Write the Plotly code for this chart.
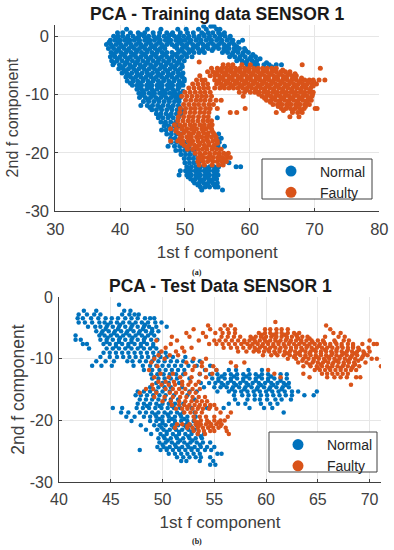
import plotly.graph_objects as go

# Each row: (2nd f component, [1st f component values])
train_normal_rows = [
(1.7,[52.9,54.0,54.5]),
(1.2,[41.0,44.2,46.3,48.9,50.2,52.1,53.3,54.9,55.4]),
(0.6,[39.6,40.4,41.6,42.8,43.8,45.1,46.1,47.2,48.1,49.3,50.4,51.3,52.6,53.6,54.3,55.2,56.1]),
(0.0,[39.0,39.7,40.4,41.2,42.0,42.9,43.7,44.4,45.2,46.0,46.8,47.5,48.4,49.1,49.8,50.6,51.4,52.2,53.0,53.8,54.6,55.4,56.2,57.0]),
(-0.7,[38.5,39.2,40.0,40.7,41.5,42.2,43.0,43.8,44.6,45.3,46.2,47.0,47.8,48.6,49.4,50.0,50.9,51.7,52.5,53.3,54.1,54.9,55.7,56.5,57.4,58.9]),
(-1.4,[37.9,38.6,39.4,40.1,40.9,41.7,42.5,43.2,44.0,44.8,45.6,46.4,47.2,48.0,48.8,49.6,50.3,51.2,52.0,52.8,53.6,54.4,55.2,56.0,56.8,57.6]),
(-2.1,[38.2,39.0,39.8,40.6,41.4,42.2,43.0,43.8,44.6,45.4,46.2,46.9,48.8,49.6,50.4,51.2,52.0,52.8,53.6,54.4,55.2,56.0,56.8,57.6,58.4,59.2]),
(-2.8,[38.6,39.3,40.1,40.9,41.7,42.5,43.3,44.1,44.9,45.7,46.5,47.2,48.0,49.0,49.8,50.6,51.4,52.2,53.0,55.8,56.6,57.4,58.2,59.0,59.8]),
(-3.5,[38.5,39.2,40.0,40.8,41.6,42.4,43.2,44.0,44.8,45.6,46.4,47.2,48.0,48.8,49.5,50.3,51.1,56.9,57.7,58.5,59.3,60.2,60.9]),
(-4.2,[38.7,39.5,40.3,41.1,41.9,42.7,43.5,44.3,45.1,45.9,46.7,47.5,48.3,49.1,49.9,58.0,58.8,59.6,60.4,61.1]),
(-4.9,[38.9,39.9,40.7,41.5,42.3,43.1,43.9,44.7,45.5,46.3,47.1,47.9,48.7,49.5,59.6,60.5,61.2,62.2,63.0,64.1,64.9]),
(-5.6,[39.8,40.5,41.3,42.1,42.9,43.7,44.5,45.3,46.1,46.9,47.7,48.5,49.3,61.1]),
(-6.3,[40.3,41.0,41.8,42.6,43.4,44.2,45.0,45.8,46.6,47.4,48.2,49.0,49.7]),
(-7.0,[40.9,41.6,42.4,43.2,44.0,44.8,45.6,46.4,47.2,48.0,48.8,49.6]),
(-7.7,[41.1,42.0,42.7,43.5,44.3,45.1,45.9,46.7,47.5,48.3,49.1,49.9]),
(-8.4,[41.9,42.6,43.3,44.1,44.9,45.7,46.5,47.3,48.1,48.9,49.7]),
(-9.1,[42.6,43.3,44.1,44.9,45.7,46.5,47.3,48.1,48.9]),
(-9.8,[42.9,43.7,44.5,45.3,46.1,47.0,47.7,48.5,49.2]),
(-10.5,[43.0,43.9,44.7,45.5,46.3,47.1,47.9,48.6,49.3]),
(-11.2,[43.6,44.4,45.2,46.0,46.8,47.6,48.4,49.1]),
(-11.9,[43.2,44.2,45.0,45.8,46.6,47.4,48.2,49.0]),
(-12.6,[44.9,45.6,46.4,47.2,48.0,48.8,49.5]),
(-13.3,[45.6,46.3,47.1,47.9,48.7,49.4]),
(-14.0,[45.9,46.6,47.4,48.2,49.0,55.0]),
(-14.7,[46.3,47.0,47.8,48.6]),
(-15.4,[46.8,47.5,48.3,49.0]),
(-16.1,[46.4,47.1,47.9,48.6]),
(-16.8,[47.2,47.9,48.7,49.4,55.2]),
(-17.5,[47.8,48.5,49.3,54.9,55.6]),
(-18.2,[47.9,48.7,49.5,50.1,55.3]),
(-18.9,[47.4,48.4,49.2,49.9,50.6,55.1,56.1]),
(-19.6,[48.6,49.3,50.0,50.7,51.4]),
(-20.3,[49.4,50.1,50.8,51.5]),
(-21.0,[49.9,50.6,51.3,52.0]),
(-21.7,[50.0,50.7,51.4,52.1,55.9,56.8]),
(-22.4,[50.3,51.0,51.7,52.4,53.1,53.8,54.5,55.2,57.9,58.6]),
(-23.1,[49.3,50.1,50.9,51.6,52.3,53.0,53.7,54.4,55.0]),
(-23.8,[49.1,50.3,51.0,51.7,52.4,53.1,53.8,54.5,55.1]),
(-24.5,[50.9,51.6,52.3,53.0,53.7,54.4,54.9]),
(-25.2,[51.5,52.2,52.9,53.6,54.3,55.0]),
(-25.9,[52.4,53.1,53.8,54.7,55.1]),
(-26.4,[52.6,55.8]),
# in-between points of the dense body
(0.3,[43.2,47.9,52.9,55.8]),
(-0.35,[39.6,41.1,42.6,44.2,45.8,47.4,49.0,50.5,52.1,53.7,55.3,56.9]),
(-1.05,[38.3,39.8,41.3,42.9,44.4,46.0,47.6,49.2,50.7,52.4,54.0,55.6,57.2,58.3]),
(-1.75,[38.8,40.3,41.8,43.4,45.0,46.6,48.4,50.0,51.6,53.2,54.8,56.4,58.0]),
(-2.45,[39.6,41.1,42.6,44.2,45.8,49.4,51.0,52.6,54.2,56.2,57.8,59.4]),
(-3.15,[38.9,40.5,42.1,43.7,45.3,46.9,48.5,50.1,57.3,58.9,60.5]),
(-3.85,[39.6,41.2,42.8,44.4,46.0,47.6,49.2,58.4,60.0,61.6]),
(-4.55,[39.1,40.9,42.5,44.1,45.7,47.3,48.9,59.2,60.8,62.6]),
(-5.25,[40.1,41.7,43.3,44.9,46.5,48.1,49.6,60.9,63.4]),
(-5.95,[40.9,42.5,44.1,45.7,47.3,48.9]),
(-6.65,[41.3,42.9,44.5,46.1,47.7,49.2]),
(-7.35,[42.0,43.6,45.2,46.8,48.4,49.9]),
(-8.05,[41.6,43.0,44.6,46.2,47.8,49.4]),
(-8.75,[42.9,44.5,46.1,47.7,49.1]),
(-9.45,[43.5,45.1,46.7,48.3,49.7]),
(-10.15,[43.4,45.0,46.6,48.2,49.0]),
(-10.85,[44.3,45.9,47.5,49.0]),
(-12.25,[44.6,46.2,47.8,49.2]),
(-13.65,[46.0,47.6,49.1]),
(-15.05,[47.0,48.4]),
(-22.75,[50.7,52.1,53.5,54.8]),
(-23.45,[50.6,52.0,53.4,54.7]),
(-24.15,[50.5,52.0,53.4,54.6]),
(-24.85,[51.3,52.7,54.1]),
(-25.55,[52.0,53.4,54.5]),
]
train_faulty_rows = [
(-4.4,[52.2]),
(-4.9,[55.9,56.7,57.4,58.8,60.1,68.1]),
(-5.5,[54.1,55.0,55.7,56.4,57.1,57.8,58.5,59.2,59.9,60.6,61.3,62.0,62.7,63.4,64.1,70.9]),
(-6.1,[53.5,54.3,55.0,55.7,56.4,57.1,57.8,58.5,59.2,59.9,60.6,61.3,62.0,62.7,63.4,64.1,64.8,65.5,66.2]),
(-6.8,[52.3,53.9,54.6,55.3,56.0,56.7,57.4,58.1,58.8,59.5,60.2,60.9,61.6,62.3,63.0,63.7,64.4,65.1,65.8,66.5,67.2]),
(-7.5,[51.8,52.6,53.1,54.6,55.3,56.0,56.7,57.4,58.1,58.8,59.5,60.2,60.9,61.6,62.3,63.0,63.7,64.4,65.1,65.8,66.5,67.2,67.9,68.5,69.2,69.8,70.7,71.6]),
(-8.2,[51.2,52.0,52.8,53.5,54.9,55.6,56.3,57.0,57.7,58.4,59.1,59.8,60.5,61.2,61.9,62.6,63.3,64.0,64.7,65.4,66.1,66.8,67.5,68.2,68.9,69.6,70.3]),
(-8.9,[50.6,51.4,52.2,52.9,53.6,54.6,55.4,56.1,56.8,57.5,58.2,58.9,59.6,60.3,61.0,61.7,62.4,63.1,63.8,64.5,65.2,65.9,66.6,67.3,68.0,68.7,69.4]),
(-9.6,[50.0,50.8,51.6,52.4,53.1,53.9,58.4,59.2,60.1,60.8,61.5,62.2,62.9,63.6,64.3,65.0,65.7,66.4,67.1,67.8,68.5,69.2,69.8]),
(-10.3,[49.5,50.3,51.1,51.9,52.6,53.3,54.1,59.0,61.9,62.6,63.3,64.0,64.7,65.4,66.1,66.8,67.5,68.2,68.9,69.6]),
(-11.0,[50.1,50.9,51.7,52.4,53.1,53.9,54.8,55.6,62.6,63.3,64.0,64.7,65.4,66.1,66.8,67.5,68.2,68.9,69.5]),
(-11.7,[49.8,50.6,51.4,52.1,52.9,53.7,54.4,63.6,64.3,65.0,65.7,66.4,67.1,67.8,68.5,69.2]),
(-12.4,[49.3,50.1,50.9,51.6,52.4,53.2,53.9,55.0,59.3,64.9,65.6,66.3,67.0,67.7,68.4,70.1,70.4]),
(-13.1,[49.2,50.0,50.8,51.5,52.3,53.0,53.7,57.0,58.0,64.1,66.6,67.4,68.1]),
(-13.8,[49.0,49.8,50.6,51.3,52.1,52.9,53.6,66.2,67.6]),
(-14.5,[48.9,49.7,50.5,51.2,52.0,52.8,53.5,54.1]),
(-15.2,[48.4,49.2,50.0,50.8,51.5,52.3,53.0,53.8,54.2]),
(-15.9,[47.8,48.7,49.5,50.3,51.0,51.8,52.6,53.3,54.1]),
(-16.6,[49.0,49.8,50.6,51.3,52.1,52.9,53.6,54.4]),
(-17.3,[49.5,50.3,51.0,51.8,52.6,53.3,54.1,54.8]),
(-18.0,[47.8,48.9,49.7,50.5,51.2,52.0,52.8,53.5,54.3,55.0]),
(-18.7,[49.9,50.7,51.5,52.2,53.0,53.7,54.5]),
(-19.4,[50.4,51.2,52.0,52.7,53.4,54.2,54.9,55.6]),
(-20.1,[51.6,52.3,53.1,53.8,54.6,55.3,56.0,56.7]),
(-20.8,[52.1,52.9,53.6,54.4,55.1,55.8,56.6,57.0]),
(-21.5,[52.0,52.8,53.5,54.3,55.0,55.7,56.4]),
(-22.1,[52.2,53.0,54.2,55.2,55.9]),
# in-between points of the dense arm and foot
(-5.8,[55.3,56.8,58.2,59.6,61.0,62.4,63.8,65.1]),
(-6.45,[54.9,56.3,57.7,59.1,60.5,61.9,63.3,64.7,66.1,67.0]),
(-7.15,[55.6,57.0,58.4,59.8,61.2,62.6,64.0,65.4,66.8,68.0]),
(-7.85,[55.1,56.5,57.9,59.3,60.7,62.1,63.5,64.9,66.3,67.7,69.0,69.9]),
(-8.55,[55.9,57.3,58.7,60.1,61.5,62.9,64.3,65.7,67.1,68.5,69.8]),
(-9.25,[59.5,60.9,62.3,63.7,65.1,66.5,67.9,69.3]),
(-9.95,[61.4,62.8,64.2,65.6,67.0,68.4,69.7]),
(-10.65,[62.3,63.7,65.1,66.5,67.9,69.2]),
(-11.35,[63.2,64.6,66.0,67.4,68.8]),
(-12.05,[64.4,65.8,67.2,68.6]),
(-12.75,[65.2,66.6,68.0]),
(-15.55,[49.6,51.2,52.8,53.7]),
(-16.25,[48.6,50.0,51.4,52.8,54.2]),
(-16.95,[49.3,50.7,52.1,53.5,54.6]),
(-17.65,[49.2,50.6,52.0,53.4,54.8]),
(-18.35,[49.5,50.9,52.3,53.7,55.0]),
(-19.05,[50.3,51.7,53.1,54.3]),
(-20.45,[52.5,53.9,55.3,56.4]),
(-21.15,[52.4,53.8,55.2,56.1]),
]
test_normal_rows = [
(-1.2,[45.8]),
(-2.2,[42.4,43.6,46.3,46.9]),
(-2.8,[41.9,42.7,43.4,44.0,46.1,46.8,47.3,47.7]),
(-3.4,[41.8,42.3,43.1,43.8,44.5,45.1,45.7,46.4,47.0,47.6,48.3,48.8,49.2]),
(-4.1,[41.9,42.5,43.2,43.9,44.4,45.0,45.6,46.2,46.8,47.4,48.0,48.6,49.3,49.9]),
(-4.8,[42.8,43.5,44.0,44.6,45.2,45.8,46.4,47.0,47.6,48.2,48.7,49.4,50.4]),
(-5.5,[43.6,44.2,44.8,45.4,46.0,46.6,47.2,47.8,48.4,49.0,49.6]),
(-6.2,[41.6,43.9,44.4,45.0,45.6,46.2,46.8,47.4,48.0,48.6,49.2]),
(-6.9,[41.6,42.1,44.0,44.6,45.2,45.8,46.4,47.0,47.6,48.2,48.9,49.5]),
(-7.6,[42.3,42.7,44.3,44.9,45.5,46.1,46.7,47.3,47.9,48.5,49.1]),
(-8.3,[42.9,44.6,45.2,45.8,46.4,47.0,47.6,48.2,48.8,49.4]),
(-9.0,[44.3,44.9,45.5,46.1,46.7,47.3,47.9,48.5,49.1,49.7,50.3]),
(-9.7,[44.0,44.9,45.6,46.2,46.8,47.4,48.0,48.6,49.2,49.8,50.4,51.0,52.2]),
(-10.4,[43.6,44.5,45.3,46.6,47.1,47.8,48.4,49.0,49.6,50.2,50.8,51.4,52.0,52.9,53.6]),
(-11.1,[43.2,44.1,45.1,47.2,48.1,48.8,49.4,50.0,50.6,51.2,51.8,52.5,53.3,54.6]),
(-11.8,[48.2,49.0,49.7,50.3,50.9,51.5,52.1,54.1,55.2,56.4,57.1,58.3,59.6]),
(-12.5,[48.9,49.5,50.1,50.7,51.3,52.0,53.6,54.6,55.3,56.0,56.6,57.2,57.8,58.4,59.0,59.6,60.2,61.4,62.0]),
(-13.2,[49.0,49.6,50.2,50.8,51.4,52.6,54.8,55.4,56.0,56.6,57.2,57.8,58.4,59.0,59.6,60.2,60.8,61.4,62.0]),
(-13.9,[49.4,50.0,50.6,51.6,53.7,54.5,55.1,55.7,56.3,56.9,57.5,58.1,58.7,59.3,59.9,60.5,61.1,61.7,62.2]),
(-14.6,[48.8,49.6,50.2,50.8,51.9,54.0,55.0,55.6,56.2,56.8,57.4,58.0,58.6,59.2,59.8,60.4,61.0,61.6,62.2]),
(-15.3,[47.6,48.2,48.8,49.4,50.0,50.7,52.6,53.3,55.3,56.4,57.0,57.6,58.2,58.8,59.4,60.0,60.6,61.2,61.8,62.5,63.1,64.9]),
(-15.9,[47.4,47.9,48.5,49.1,49.7,50.3,51.1,52.4,56.9,57.7,58.3,58.9,59.5,60.1,60.7,61.3,61.9,62.5,63.7,64.6]),
(-16.6,[47.8,48.4,49.0,49.6,50.2,50.8,51.5,53.1,57.0,58.2,58.9,59.4,60.1,60.9,61.5,62.4]),
(-17.3,[47.6,48.2,48.8,49.4,50.0,50.6,51.2,52.0,56.4,57.3,58.0,59.5,60.4,61.1]),
(-18.0,[45.2,46.1,47.5,48.1,48.7,49.3,49.9,50.5,51.1,51.7,52.8,54.3,55.9,58.4,59.8,60.6]),
(-18.7,[46.0,46.7,47.8,48.4,49.0,49.6,50.2,50.8,51.4,52.0,53.1,61.7]),
(-19.4,[46.5,47.3,48.2,48.8,49.4,50.0,50.6,51.2,51.8,52.4,53.2]),
(-20.1,[47.0,48.8,49.4,50.0,50.6,51.2,51.8,52.4,53.0]),
(-20.8,[47.9,49.2,49.7,50.3,50.9,51.5,52.1,52.7,53.3]),
(-21.5,[48.4,49.5,50.1,50.7,51.3,51.9,52.5,53.1]),
(-22.2,[48.9,49.8,50.4,51.0,51.6,52.2,52.8,53.4,54.0]),
(-22.9,[49.6,50.2,50.8,51.4,52.0,52.6,53.2,53.8]),
(-23.6,[49.7,50.3,50.9,51.5,52.1,52.7,53.3,53.9,54.6]),
(-24.3,[49.5,50.1,50.7,51.3,51.9,52.5,53.1,53.7,54.3,55.0]),
(-24.8,[47.8,49.8,50.4,51.0,51.6,52.2,52.8,53.4,54.1,54.7]),
(-25.4,[50.6,51.2,51.8,52.4,53.0,53.6,55.3,55.7]),
(-26.0,[51.4,52.0,52.6,53.2,53.7,54.6]),
(-26.6,[51.8,52.3,53.6,54.9]),
(-27.2,[54.6,55.1]),
# in-between points of the dense clusters
(-4.45,[44.7,45.9,47.1,48.3]),
(-5.15,[44.5,45.7,46.9,48.1,49.0]),
(-5.85,[44.1,45.3,46.5,47.7,48.9]),
(-6.55,[44.7,45.9,47.1,48.3]),
(-7.25,[44.6,45.8,47.0,48.2]),
(-7.95,[45.5,46.7,47.9,49.1]),
(-12.85,[55.7,56.9,58.1,59.3,60.5]),
(-13.55,[55.4,56.6,57.8,59.0,60.2,61.4]),
(-14.25,[55.9,57.1,58.3,59.5,60.7,61.9]),
(-14.95,[56.7,57.9,59.1,60.3,61.5]),
(-17.65,[48.5,49.7,50.9]),
(-19.05,[49.3,50.5,51.7]),
(-19.75,[49.7,50.9,52.1]),
(-20.45,[50.0,51.2,52.4]),
(-21.15,[49.9,51.1,52.3]),
(-21.85,[50.4,51.6,52.8]),
(-22.55,[50.1,51.3,52.5,53.7]),
(-23.25,[50.5,51.7,52.9]),
(-23.95,[50.0,51.2,52.4,53.6]),
(-24.55,[50.4,51.6,52.8]),
]
test_faulty_rows = [
(-4.0,[60.9]),
(-4.6,[54.4,56.0,56.6,65.8]),
(-5.2,[53.0,54.6,55.6,56.3,57.0,59.9,60.4,61.0,61.5,62.1,66.2]),
(-5.8,[52.3,53.9,55.1,55.8,56.4,57.0,59.3,59.9,60.4,61.0,61.5,62.1,62.7,63.2,66.5,67.2]),
(-6.4,[50.9,52.6,54.2,55.7,56.3,56.9,57.5,58.5,59.0,59.5,60.0,60.5,61.0,61.5,62.0,62.5,63.0,63.5,64.0,65.7,67.0,67.6]),
(-7.0,[49.4,51.4,53.5,55.0,55.5,56.1,56.7,57.3,57.9,58.4,58.9,59.4,59.9,60.4,60.9,61.4,61.9,62.4,62.9,63.4,63.9,64.4,65.0,65.5,66.6,67.5,68.0,70.0]),
(-7.6,[50.8,54.5,55.2,55.8,56.4,57.0,57.6,58.2,58.7,59.2,59.7,60.2,60.7,61.2,61.7,62.2,62.7,63.2,63.7,64.2,64.7,65.2,65.7,66.2,66.8,67.3,67.9,68.4,69.3,70.4,70.7]),
(-8.2,[50.3,51.9,52.8,55.9,56.6,57.2,57.8,58.4,58.9,59.4,59.9,60.4,60.9,61.4,61.9,62.4,62.9,63.4,63.9,64.4,64.9,65.4,65.9,66.4,66.9,67.4,67.9,68.4,68.9,69.9]),
(-8.8,[49.9,51.3,52.1,57.3,58.1,58.8,59.3,59.8,60.3,60.8,61.3,61.8,62.3,62.8,63.3,63.8,64.3,64.8,65.3,65.8,66.3,66.8,67.3,67.8,68.3,68.8,69.4,70.0]),
(-9.4,[49.6,50.7,51.5,59.7,60.5,61.1,61.7,62.3,62.8,63.3,63.8,64.3,64.8,65.3,65.8,66.3,66.8,67.3,67.8,68.3,68.8,69.4,69.8]),
(-10.0,[49.2,50.2,53.0,54.2,62.1,62.9,63.6,64.1,64.6,65.1,65.6,66.1,66.6,67.1,67.6,68.1,68.6,69.2,70.2,70.7]),
(-10.6,[48.9,52.3,53.8,56.6,57.9,63.1,63.9,64.5,65.0,65.5,66.0,66.5,67.0,67.5,68.0,68.5,69.6]),
(-11.2,[49.5,53.1,53.8,54.9,57.1,63.6,64.3,64.9,65.4,65.9,66.4,66.9,67.4,67.9,68.4,69.0,71.1]),
(-11.8,[48.7,52.9,54.2,55.2,60.2,64.7,65.2,65.7,66.2,66.7,67.2,67.7,68.2,68.7]),
(-12.4,[49.8,51.0,52.2,53.6,54.8,60.8,63.6,65.4,65.9,66.4,66.9,67.4,67.9]),
(-13.0,[49.2,50.6,51.7,52.8,54.2,61.4,64.2,65.9,66.6,67.2,67.8,68.7,69.1]),
(-13.7,[49.6,50.3,51.1,51.9,52.7,53.5]),
(-14.2,[49.0,49.9,50.6,51.2,51.9,52.5,53.2,68.2]),
(-14.9,[48.4,49.1,50.3,51.0,51.6,52.2,52.9,53.6]),
(-15.5,[47.8,49.4,50.7,51.3,51.9,52.6,53.2]),
(-16.2,[49.2,50.2,51.0,51.7,52.3,52.9,53.5,54.1]),
(-16.9,[50.0,50.8,51.6,52.2,52.8,53.3,53.8,54.3]),
(-17.5,[50.9,51.6,52.1,52.6,53.1,53.6,54.1,54.6,55.0]),
(-18.1,[51.3,51.9,52.4,52.9,53.4,53.9,54.5,55.2]),
(-18.7,[52.1,52.7,53.2,53.8,55.6,56.6]),
(-19.4,[53.0,53.6,54.2,55.0,56.3]),
(-20.0,[53.1,53.7,54.3,55.0,55.6,56.0]),
(-20.6,[51.4,51.9,52.6,53.2,53.7,54.2,54.7,55.2,55.7]),
(-21.2,[51.2,52.4,52.9,53.4,53.9,54.4,54.9,55.4,56.1]),
(-21.7,[53.0,53.5,54.0,54.6,55.0,56.2]),
(-22.2,[53.4,54.1,56.4]),
# in-between points of the dense band
(-6.1,[59.6,60.7,61.8,62.9]),
(-6.7,[58.7,59.8,60.9,62.0,63.1,64.2]),
(-7.3,[57.9,59.0,60.1,61.2,62.3,63.4,64.5,65.6,66.7]),
(-7.9,[58.5,59.6,60.7,61.8,62.9,64.0,65.1,66.2,67.3,68.4]),
(-8.5,[59.1,60.2,61.3,62.4,63.5,64.6,65.7,66.8,67.9,69.0]),
(-9.1,[60.9,62.0,63.1,64.2,65.3,66.4,67.5,68.6,69.5]),
(-9.7,[62.7,63.8,64.9,66.0,67.1,68.2,69.3]),
(-10.3,[63.5,64.6,65.7,66.8,67.9,68.9]),
(-10.9,[64.2,65.3,66.4,67.5,68.6]),
(-11.5,[65.0,66.1,67.2,68.3]),
(-17.8,[52.4,53.5,54.6]),
(-20.3,[53.4,54.5,55.4]),
(-20.9,[52.4,53.5,54.6,55.6]),
]
labels = ["Normal", "Faulty"]
colors = ["#0072BD", "#D95319"]
titles = ["PCA - Training data SENSOR 1", "PCA - Test Data SENSOR 1"]
captions = ["(a)", "(b)"]
x_tick_sets = [[30, 40, 50, 60, 70, 80], [40, 45, 50, 55, 60, 65, 70]]
y_ticks = [0, -10, -20, -30]


def expand(rows):
    xs, ys = [], []
    for y, row in rows:
        xs += row
        ys += [y] * len(row)
    return xs, ys


FONT = "Liberation Sans"
INK = "#404040"
fig = go.Figure()
panels = [
    ("x", "y", train_normal_rows, train_faulty_rows, "legend", 5.0),
    ("x2", "y2", test_normal_rows, test_faulty_rows, "legend2", 4.5),
]
for xa, ya, nrows, frows, lg, ms in panels:
    for rows, color, name in zip((nrows, frows), colors, labels):
        xs, ys = expand(rows)
        fig.add_trace(go.Scatter(x=xs, y=ys, mode="markers", xaxis=xa, yaxis=ya, showlegend=False,
                                 marker=dict(color=color, size=ms, line=dict(width=0))))
    for color, name in zip(colors, labels):
        fig.add_trace(go.Scatter(x=[None], y=[None], mode="markers", name=name, legend=lg, xaxis=xa, yaxis=ya,
                                 marker=dict(color=color, size=11)))


def axis(domain, rng, ticks, title, anchor, tick_size, title_size, tick_gap, standoff):
    return dict(domain=domain, range=rng, tickvals=ticks, ticktext=[str(t_) for t_ in ticks], automargin=False,
                anchor=anchor, showgrid=True, gridcolor="#e6e6e6", gridwidth=1, zeroline=False,
                showline=True, linecolor=INK, linewidth=1, ticks="inside", ticklen=3, tickcolor=INK,
                ticklabelstandoff=tick_gap,
                tickfont=dict(family=FONT, size=tick_size, color=INK),
                title=dict(text=title, standoff=standoff, font=dict(family=FONT, size=title_size, color=INK)))


W, H = 394, 550
legend_style = dict(bgcolor="rgba(0,0,0,0)", borderwidth=0, font=dict(family=FONT, size=14, color="#262626"),
                    xanchor="left", yanchor="top", itemclick=False, itemdoubleclick=False, itemwidth=48)


def box(x0, y0, x1, y1):
    return dict(type="rect", xref="paper", yref="paper", x0=x0 / W, x1=x1 / W, y0=1 - y1 / H, y1=1 - y0 / H,
                fillcolor="white", line=dict(color=INK, width=1), layer="above")


def note(text, x, y, family, size):
    return dict(text=f"<b>{text}</b>", x=x / W, y=1 - y / H, xref="paper", yref="paper", showarrow=False,
                xanchor="center", yanchor="middle",
                font=dict(family=family, size=size, color="#1a1a1a"))


fig.update_layout(
    width=W, height=H, margin=dict(l=0, r=0, t=0, b=0, autoexpand=False), paper_bgcolor="white", plot_bgcolor="white",
    xaxis=axis([55.3 / W, 379.3 / W], [30, 80], x_tick_sets[0], "1st f component", "y", 16.5, 17, 3, 9),
    yaxis=axis([1 - 211 / H, 1 - 24.6 / H], [-30, 2], y_ticks, "2nd f component", "x", 16.5, 16, 2, 2),
    xaxis2=axis([59 / W, 381 / W], [40, 71.1], x_tick_sets[1], "1st f component", "y2", 16, 17, 3, 8),
    yaxis2=axis([1 - 482 / H, 1 - 297.3 / H], [-30, 0], y_ticks, "2nd f component", "x2", 16, 17.5, 2, 0),
    legend=dict(x=262 / W, y=1 - 155.5 / H, **legend_style),
    legend2=dict(x=269 / W, y=1 - 429 / H, **legend_style),
    shapes=[box(262, 159, 372, 199), box(269, 432, 377, 472)],
    annotations=[
        note(titles[0], 217, 14, FONT, 17.5),
        note(titles[1], 220, 286, FONT, 17.5),
        note(captions[0], 197, 272, "Liberation Serif", 8),
        note(captions[1], 197, 541, "Liberation Serif", 8),
    ],
)
fig.write_html("out.html", config=dict(displayModeBar=False), post_script="document.body.style.margin='0';")
